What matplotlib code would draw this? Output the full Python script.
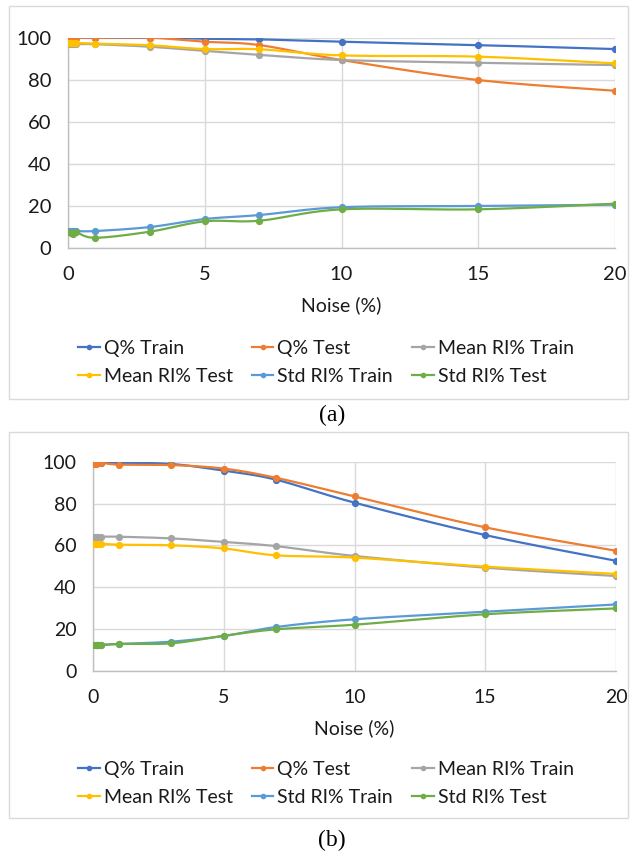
import numpy as np
import matplotlib
matplotlib.use("Agg")
import matplotlib.pyplot as plt
from matplotlib.lines import Line2D
from matplotlib.patches import Rectangle

# ---------------- data ----------------
noise = [0, 0.1, 0.2, 0.3, 1, 3, 5, 7, 10, 15, 20]
series_names = ["Q% Train", "Q% Test", "Mean RI% Train",
                "Mean RI% Test", "Std RI% Train", "Std RI% Test"]

q_train_a = [100, 100, 100, 100, 100, 100, 99.5, 99.2, 98.1, 96.5, 94.6]
q_test_a = [100, 100, 100, 100, 100, 100, 98.1, 96.5, 89.4, 79.9, 74.8]
mean_train_a = [96.9, 96.9, 96.9, 96.9, 96.9, 95.7, 93.7, 91.9, 89.4, 88.1, 87.0]
mean_test_a = [97.5, 97.5, 97.5, 97.5, 97.2, 96.4, 94.6, 94.5, 91.6, 91.0, 87.8]
std_train_a = [8.2, 8.2, 8.2, 8.2, 8.2, 10.1, 13.9, 15.8, 19.5, 20.1, 20.7]
std_test_a = [7.7, 7.5, 6.8, 7.7, 5.0, 7.9, 12.8, 13.1, 18.5, 18.5, 21.2]

q_train_b = [99.5, 99.5, 99.5, 99.5, 99.5, 98.9, 95.7, 91.4, 80.4, 64.9, 52.6]
q_test_b = [99.0, 99.0, 99.3, 99.5, 98.6, 98.4, 96.7, 92.3, 83.4, 68.6, 57.4]
mean_train_b = [64.1, 64.1, 64.1, 64.1, 64.1, 63.3, 61.6, 59.6, 54.9, 49.3, 45.3]
mean_test_b = [60.8, 60.8, 60.8, 60.8, 60.3, 60.0, 58.5, 55.2, 54.1, 49.8, 46.3]
std_train_b = [12.3, 12.3, 12.3, 12.3, 12.8, 13.9, 16.6, 20.9, 24.6, 28.2, 31.7]
std_test_b = [12.3, 12.3, 12.3, 12.3, 12.8, 13.1, 16.7, 19.8, 22.0, 27.0, 29.8]

x_ticks = [0, 5, 10, 15, 20]
y_ticks = [0, 20, 40, 60, 80, 100]

colors = ["#4472C4", "#ED7D31", "#A5A5A5", "#FFC000", "#5B9BD5", "#70AD47"]

FONT = ["Lato", "DejaVu Sans"]
plt.rcParams["font.family"] = FONT
TXT = "#1a1a1a"


def smooth(xs, ys, n=20):
    """Excel-like smoothed line (Catmull-Rom Bezier) through the points."""
    P = np.column_stack([xs, ys]).astype(float)
    m = len(P)
    out = []
    t = np.linspace(0, 1, n)
    for i in range(m - 1):
        p0 = P[max(i - 1, 0)]
        p1 = P[i]
        p2 = P[i + 1]
        p3 = P[min(i + 2, m - 1)]
        c1 = p1 + (p2 - p0) / 6.0
        c2 = p2 - (p3 - p1) / 6.0
        seg = ((1 - t) ** 3)[:, None] * p1 + (3 * (1 - t) ** 2 * t)[:, None] * c1 \
            + (3 * (1 - t) * t ** 2)[:, None] * c2 + (t ** 3)[:, None] * p2
        out.append(seg if i == 0 else seg[1:])
    out = np.vstack(out)
    return out[:, 0], out[:, 1]


fig = plt.figure(figsize=(6.31, 8.55), dpi=100)
W, H = 631, 855


def fx(px):
    return px / W


def fy(py):
    return 1 - py / H


# panel frames
for (x0, y0, x1, y1) in [(9, 6, 628, 399), (9, 432, 628, 818)]:
    fig.patches.append(Rectangle((fx(x0), fy(y1)), fx(x1) - fx(x0), fy(y0) - fy(y1),
                                 transform=fig.transFigure, fill=False,
                                 edgecolor="#d9d9d9", linewidth=1.0, zorder=0))

# row-major legend order for a 3-column legend
order = [0, 3, 1, 4, 2, 5]


def panel(rect_px, data, fs, lfs, legend_y, label_y, caption_y, caption):
    l, r, t, b = rect_px
    ax = fig.add_axes([fx(l), fy(b), fx(r) - fx(l), fy(t) - fy(b)])
    for vals, c in zip(data, colors):
        sx, sy = smooth(noise, vals)
        ax.plot(sx, sy, color=c, lw=1.6, solid_capstyle="round", zorder=3)
        ax.plot(noise, vals, ls="none", marker="o", ms=4.2, color=c, zorder=4)
    ax.set_xlim(0, 20)
    ax.set_ylim(0, 100)
    ax.set_xticks(x_ticks)
    ax.set_yticks(y_ticks)
    ax.grid(True, color="#d9d9d9", lw=1.0, zorder=0)
    ax.set_axisbelow(True)
    for s in ["top", "right"]:
        ax.spines[s].set_visible(False)
    for s in ["left", "bottom"]:
        ax.spines[s].set_color("#bfbfbf")
        ax.spines[s].set_linewidth(1.0)
    ax.tick_params(length=0, labelsize=fs, colors=TXT)
    ax.tick_params(axis="y", pad=12)
    ax.tick_params(axis="x", pad=13)
    ax.set_xlabel("Noise (%)", fontsize=lfs, color=TXT)
    ax.xaxis.set_label_coords(0.5, (b - label_y) / (b - t))
    ax.xaxis.label.set_va("center")

    handles = [Line2D([], [], color=c, lw=1.6, marker="o", ms=3) for c in colors]
    fig.legend([handles[i] for i in order], [series_names[i] for i in order],
               loc="center", ncol=3,
               bbox_to_anchor=(fx(326), fy(legend_y)), frameon=False,
               fontsize=lfs, handlelength=1.1, handletextpad=0.2,
               columnspacing=1.0, labelspacing=0.55, labelcolor=TXT)
    fig.text(fx(332), fy(caption_y), caption, ha="center", va="center",
             fontsize=17, family=["Liberation Serif", "DejaVu Serif"], color="black")
    return ax


panel((68, 615, 37.7, 248.3),
      [q_train_a, q_test_a, mean_train_a, mean_test_a, std_train_a, std_test_a],
      14.5, 14, 362.5, 305, 415, "(a)")
panel((93, 616, 461.7, 670.7),
      [q_train_b, q_test_b, mean_train_b, mean_test_b, std_train_b, std_test_b],
      14, 14, 783.5, 728, 840, "(b)")

fig.savefig("out.png", dpi=100)
